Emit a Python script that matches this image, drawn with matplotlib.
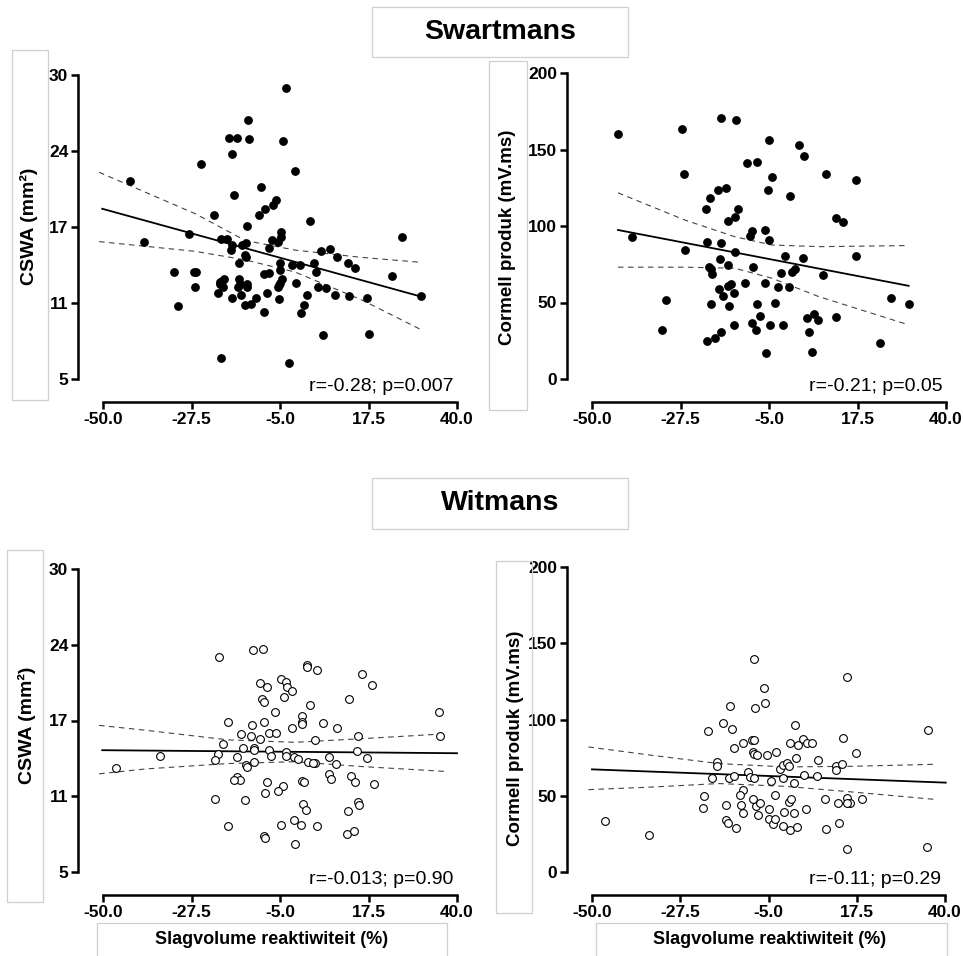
import matplotlib
matplotlib.use("Agg")
import matplotlib.pyplot as plt
from matplotlib.patches import Rectangle

plt.rcParams["font.family"] = ["Liberation Sans", "DejaVu Sans"]
plt.rcParams["axes.unicode_minus"] = False

# ---- data ----
x_ticks = [-50.0, -27.5, -5.0, 17.5, 40.0]
x_ticklabels = ["-50.0", "-27.5", "-5.0", "17.5", "40.0"]
cswa_ticks = [5, 11.25, 17.5, 23.75, 30]
cswa_ticklabels = ["5", "11", "17", "24", "30"]
cornell_ticks = [0, 50, 100, 150, 200]
cornell_ticklabels = ["0", "50", "100", "150", "200"]

# Swartmans, CSWA
black_cswa = [
    (-43.2, 21.3), (-39.6, 16.3), (-28.1, 16.9), (-25.1, 22.7), (-32.0, 13.8), (-26.9, 13.8),
    (-26.3, 13.8), (-26.7, 12.6), (-31.0, 11.0), (-20.8, 12.1), (-20.3, 13.0), (-20.3, 12.8),
    (-19.7, 13.1), (-19.2, 13.2), (-19.6, 12.6), (-21.9, 18.5), (-20.1, 16.5), (-18.6, 16.5),
    (-17.9, 24.8), (-15.9, 24.8), (-17.1, 23.5), (-16.6, 20.1), (-17.1, 16.0), (-17.5, 15.6),
    (-15.4, 14.5), (-15.5, 13.2), (-15.2, 12.8), (-15.6, 12.6), (-15.0, 11.9), (-17.3, 11.7),
    (-14.6, 16.0), (-13.7, 16.2), (-13.7, 15.0), (-13.9, 15.2), (-13.3, 17.6), (-13.2, 26.3),
    (-12.8, 24.7), (-13.5, 12.8), (-13.3, 12.6), (-13.8, 11.1), (-12.5, 11.2), (-11.1, 11.7),
    (-9.8, 20.8), (-10.3, 18.5), (-8.9, 19.0), (-9.1, 10.5), (-9.0, 13.6), (-7.8, 13.7),
    (-8.2, 12.1), (-7.8, 15.8), (-7.0, 16.4), (-6.7, 19.3), (-5.9, 19.7), (-5.4, 16.3),
    (-4.8, 16.7), (-4.8, 17.1), (-5.0, 14.5), (-4.9, 14.0), (-5.6, 12.6), (-5.2, 12.7),
    (-4.9, 12.9), (-4.6, 13.2), (-5.3, 11.6), (-4.2, 24.6), (-3.5, 28.9), (-2.6, 6.3),
    (-1.3, 22.1), (-1.9, 14.4), (-0.9, 12.9), (0.1, 14.4), (1.8, 11.9), (1.1, 11.1),
    (0.4, 10.4), (2.6, 18.0), (3.6, 14.5), (4.2, 13.8), (4.7, 12.6), (5.3, 15.5),
    (6.7, 12.5), (6.0, 8.6), (7.6, 15.7), (9.0, 11.9), (9.6, 15.0), (12.4, 14.5),
    (12.6, 11.8), (14.1, 14.1), (17.1, 11.7), (17.5, 8.7), (23.4, 13.5), (26.1, 16.7),
    (30.8, 11.8), (-19.9, 6.7),
]

# Swartmans, Cornell product
black_cornell = [
    (-43.4, 160), (-39.8, 93), (-27.1, 163.5), (-26.5, 133.7), (-26.4, 84.3), (-31.1, 51.7),
    (-32.3, 32.2), (-21.1, 111.3), (-20.1, 118), (-20.7, 89.8), (-20.2, 73.5), (-19.8, 71.7),
    (-19.4, 68.7), (-19.7, 48.9), (-20.7, 24.6), (-18.8, 26.7), (-17.3, 30.7), (-17.9, 123.5),
    (-16.0, 124.6), (-17.3, 170.9), (-13.3, 169.1), (-17.3, 89.1), (-17.5, 78.3), (-17.7, 59.1),
    (-16.7, 54.3), (-15.5, 103.5), (-15.5, 74.6), (-15.4, 60.9), (-14.6, 62), (-15.2, 47.8),
    (-13.7, 106), (-13.0, 110.9), (-13.6, 82.8), (-13.8, 56.1), (-13.9, 35.4), (-11.2, 63),
    (-10.5, 140.9), (-8.1, 141.7), (-9.3, 97), (-9.8, 93.5), (-9.0, 73), (-9.2, 36.5),
    (-8.4, 32.2), (-8.1, 48.9), (-7.2, 40.9), (-4.9, 156), (-5.9, 97.4), (-4.9, 90.9),
    (-5.3, 123.5), (-4.2, 132), (-5.9, 62.6), (-4.7, 35.4), (-5.7, 17), (-3.6, 50),
    (-2.7, 60), (-1.9, 69.1), (-0.9, 80.4), (0.0, 60), (-1.4, 35.4), (0.3, 119.8),
    (0.9, 70.2), (1.6, 71.7), (2.5, 152.8), (3.9, 145.7), (3.6, 79.3), (4.6, 39.8),
    (5.1, 30.4), (6.5, 42.6), (7.4, 38.3), (5.9, 17.4), (8.7, 67.8), (9.5, 133.7),
    (12.1, 105.4), (13.9, 102.8), (12.1, 40.2), (17.0, 129.8), (17.2, 80.7), (23.2, 23.5),
    (25.9, 52.8), (30.6, 49.1),
]

# Witmans, CSWA
white_cswa = [
    (-46.6, 13.6), (-35.5, 14.6), (-21.6, 11.0), (-20.5, 22.7), (-18.3, 17.4), (-18.3, 8.8),
    (-19.5, 15.6), (-20.8, 14.7), (-21.4, 14.2), (-14.9, 16.4), (-16.0, 14.5), (-15.9, 12.8),
    (-15.2, 12.6), (-16.6, 12.6), (-14.5, 15.2), (-13.9, 10.9), (-13.7, 13.8), (-13.3, 13.7),
    (-12.2, 17.1), (-12.3, 16.2), (-11.8, 23.3), (-11.6, 15.2), (-11.5, 15.1), (-11.7, 14.1),
    (-10.2, 20.6), (-9.6, 19.3), (-9.1, 19.0), (-8.4, 20.3), (-9.2, 23.4), (-9.0, 17.4),
    (-10.1, 16.0), (-8.4, 12.4), (-8.7, 11.5), (-9.0, 8.0), (-8.7, 7.8), (-7.7, 16.5),
    (-5.9, 16.5), (-7.7, 15.1), (-7.4, 14.6), (-6.3, 18.2), (-4.8, 20.9), (-3.5, 20.7),
    (-3.3, 20.3), (-2.0, 19.9), (-3.9, 19.4), (-4.3, 12.1), (-5.5, 11.7), (-4.8, 8.9),
    (-3.6, 14.9), (-3.5, 14.6), (-2.0, 16.9), (-1.4, 9.3), (-1.2, 7.3), (-1.4, 14.5),
    (-0.3, 14.3), (0.3, 8.9), (0.5, 17.9), (0.5, 17.4), (0.5, 17.2), (0.5, 12.5),
    (1.1, 12.4), (0.9, 10.6), (1.5, 10.1), (1.8, 22.1), (1.8, 21.9), (2.0, 14.1),
    (2.5, 18.8), (3.9, 14.0), (3.5, 14.0), (3.9, 15.9), (4.5, 21.7), (4.5, 8.8),
    (5.9, 17.3), (7.4, 14.5), (7.4, 13.1), (8.0, 12.7), (9.3, 13.9), (9.4, 16.9),
    (12.6, 19.3), (13.0, 12.9), (12.2, 10.0), (12.1, 8.1), (13.7, 8.4), (14.1, 12.4),
    (14.7, 15.0), (14.9, 16.2), (14.9, 10.8), (15.1, 10.5), (15.8, 21.3), (17.1, 14.4),
    (18.3, 20.4), (18.9, 12.3), (35.3, 18.2), (35.7, 16.2),
]

# Witmans, Cornell product
white_cornell = [
    (-46.8, 33.2), (-35.5, 24.0), (-20.4, 92.5), (-21.4, 49.8), (-21.6, 42.2), (-19.4, 61.9),
    (-18.2, 71.9), (-18.2, 69.3), (-16.6, 97.9), (-14.9, 109), (-15.8, 44.2), (-15.9, 33.9),
    (-15.4, 32.1), (-15.1, 61.6), (-14.3, 93.8), (-13.9, 62.7), (-13.7, 81.5), (-13.2, 29.1),
    (-11.6, 84.6), (-11.5, 53.6), (-12.2, 50.3), (-12.1, 43.7), (-11.4, 38.7), (-10.1, 65.4),
    (-9.8, 62.3), (-9.2, 86.8), (-8.7, 86.3), (-8.8, 61.9), (-9.0, 78.7), (-8.7, 139.9),
    (-8.4, 107.5), (-8.7, 77.2), (-8.0, 76.5), (-8.3, 43.1), (-9.0, 48.1), (-7.6, 37.2),
    (-7.2, 45.5), (-6.1, 120.9), (-5.9, 110.8), (-5.4, 76.5), (-4.4, 59.5), (-4.8, 41.1),
    (-4.8, 34.8), (-3.9, 31.7), (-3.3, 35.0), (-3.2, 78.7), (-3.4, 50.3), (-2.0, 67.8),
    (-1.4, 70), (-1.4, 30.4), (-1.0, 39.1), (-1.3, 61.9), (-0.3, 71.5), (0.3, 69.7),
    (0.5, 84.6), (0.3, 45.7), (0.7, 48.1), (0.5, 27.3), (1.4, 38.7), (1.5, 58.6),
    (1.8, 96.4), (1.9, 75.0), (2.2, 29.5), (2.6, 83.3), (3.7, 87.2), (4.1, 63.8),
    (4.6, 41.1), (4.8, 84.6), (6.1, 84.6), (7.5, 73.2), (7.3, 63.2), (9.4, 47.7),
    (9.6, 28.0), (12.2, 69.7), (12.2, 67.1), (12.9, 32.3), (12.6, 45.5), (13.7, 71.0),
    (14.1, 87.9), (14.9, 15.3), (14.9, 127.7), (15.1, 48.5), (15.7, 45.2), (15.0, 45.5),
    (17.2, 78.0), (18.8, 47.7), (35.3, 16.4), (35.7, 92.9),
]

# regression lines (end points) and 95% bands, as drawn in the reference
fit_x = [(-50.2, 30.6), (-43.4, 30.5), (-50.2, 40.0), (-50.0, 40.2)]
fit_y = [(19.0, 11.8), (97.4, 60.9), (15.05, 14.8), (67.3, 58.6)]

band_x = [
    [-51.0, -26.6, -13.9, -1.2, 15.8, 30.6],
    [-43.4, -26.4, -13.7, -4.3, 7.6, 30.5],
    [-51.0, -39.3, -18.1, -1.2, 15.8, 37.0],
    [-50.9, -34.7, -17.7, -0.8, 16.2, 37.0],
]
band_hi = [
    [22.0, 18.6, 16.4, 15.6, 15.0, 14.6],
    [121.7, 103.9, 93.0, 87.6, 86.5, 87.2],
    [17.1, 16.7, 15.9, 15.7, 16.0, 16.4],
    [82.0, 76.5, 71.1, 68.9, 69.3, 70.6],
]
band_lo = [
    [16.3, 15.5, 14.8, 13.8, 11.5, 9.1],
    [73.1, 73.1, 72.4, 65.9, 53.9, 35.4],
    [13.1, 13.5, 13.95, 14.1, 13.7, 13.3],
    [54.0, 55.7, 58.0, 56.2, 52.5, 47.7],
]

stats_text = ["r=-0.28; p=0.007", "r=-0.21; p=0.05", "r=-0.013; p=0.90", "r=-0.11; p=0.29"]

W, H = 963, 956


def fig_rect(fig, x0, y0, x1, y1):
    """Light grey text-box outline, given in pixels from the top-left."""
    r = Rectangle((x0 / W, 1 - y1 / H), (x1 - x0) / W, (y1 - y0) / H,
                  transform=fig.transFigure, fill=False, edgecolor="#cfcfcf", linewidth=0.9)
    fig.add_artist(r)


def draw_panel(ax, i, pts, filled, ylim, yticks, yticklabels):
    x = [p[0] for p in pts]
    y = [p[1] for p in pts]

    if filled:
        ax.plot(x, y, "o", ms=5.3, color="black", clip_on=False, zorder=3)
    else:
        ax.plot(x, y, "o", ms=5.6, mfc="white", mec="black", mew=0.8, clip_on=False, zorder=3)

    ax.plot(fit_x[i], fit_y[i], color="black", lw=1.3, clip_on=False, zorder=2)
    for band in (band_hi[i], band_lo[i]):
        ax.plot(band_x[i], band, color="#444444", lw=0.8, ls=(0, (5, 4)),
                clip_on=False, zorder=2)

    ax.set_xlim(-50, 40)
    ax.set_ylim(*ylim)
    for side in ("top", "right"):
        ax.spines[side].set_visible(False)
    ax.spines["left"].set_position(("outward", 18))
    ax.spines["bottom"].set_position(("outward", 16.5))
    ax.spines["left"].set_linewidth(1.8)
    ax.spines["bottom"].set_linewidth(1.8)
    ax.tick_params(direction="out", length=5, width=1.8, pad=2, labelsize=12)
    ax.set_xticks(x_ticks)
    ax.set_xticklabels(x_ticklabels, fontsize=12.5, fontweight="bold")
    ax.set_yticks(yticks)
    ax.set_yticklabels(yticklabels, fontsize=12.5, fontweight="bold")
    ax.patch.set_visible(False)
    ax.text(0.99, -0.026, stats_text[i], transform=ax.transAxes, ha="right", va="center",
            fontsize=14)


fig = plt.figure(figsize=(W / 100, H / 100), dpi=100)

# axes boxes in pixels: left, top, right, bottom of the data area
boxes = [(103, 75, 457, 379), (592, 73, 946, 379), (103, 569, 457, 872), (592, 567, 945, 872)]
axes = []
for (l, t, r, b) in boxes:
    axes.append(fig.add_axes([l / W, 1 - b / H, (r - l) / W, (b - t) / H]))

draw_panel(axes[0], 0, black_cswa, True, (5, 30), cswa_ticks, cswa_ticklabels)
draw_panel(axes[1], 1, black_cornell, True, (0, 200), cornell_ticks, cornell_ticklabels)
draw_panel(axes[2], 2, white_cswa, False, (5, 30), cswa_ticks, cswa_ticklabels)
draw_panel(axes[3], 3, white_cornell, False, (0, 200), cornell_ticks, cornell_ticklabels)

# group titles
fig_rect(fig, 372, 7, 628, 57)
fig.text(500 / W, 1 - 32 / H, "Swartmans", ha="center", va="center", fontsize=20.5, fontweight="bold")
fig_rect(fig, 372, 478, 628, 529)
fig.text(500 / W, 1 - 503 / H, "Witmans", ha="center", va="center", fontsize=20.5, fontweight="bold")

# y labels in their boxes
fig_rect(fig, 12, 50, 48, 400)
fig.text(29 / W, 1 - 226 / H, "CSWA (mm²)", rotation=90, ha="center", va="center",
         fontsize=14, fontweight="bold")
fig_rect(fig, 489, 61, 527, 410)
fig.text(508 / W, 1 - 237 / H, "Cormell produk (mV.ms)", rotation=90, ha="center", va="center",
         fontsize=13.5, fontweight="bold")
fig_rect(fig, 7, 550, 43, 902)
fig.text(27 / W, 1 - 725 / H, "CSWA (mm²)", rotation=90, ha="center", va="center",
         fontsize=14, fontweight="bold")
fig_rect(fig, 496, 561, 532, 913)
fig.text(516 / W, 1 - 738 / H, "Cormell produk (mV.ms)", rotation=90, ha="center", va="center",
         fontsize=13.5, fontweight="bold")

# x labels (bottom row only)
fig_rect(fig, 97, 923, 447, 962)
fig.text(272 / W, 1 - 940 / H, "Slagvolume reaktiwiteit (%)", ha="center", va="center",
         fontsize=13, fontweight="bold")
fig_rect(fig, 596, 923, 947, 962)
fig.text(770 / W, 1 - 940 / H, "Slagvolume reaktiwiteit (%)", ha="center", va="center",
         fontsize=13, fontweight="bold")

fig.savefig("out.png", dpi=100)
